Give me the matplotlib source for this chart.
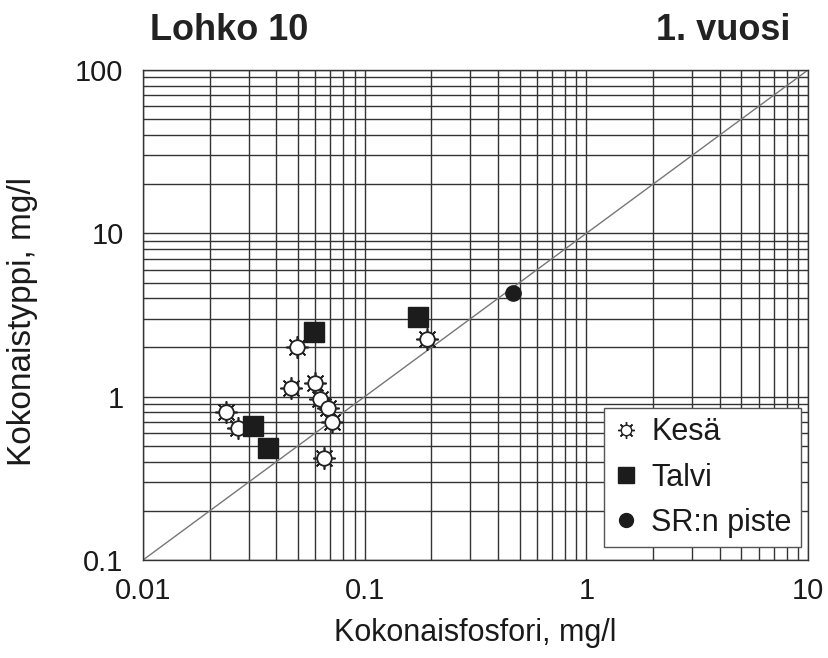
import numpy as np
import matplotlib
matplotlib.use("Agg")
import matplotlib.pyplot as plt
from matplotlib.ticker import LogLocator, FixedLocator, FixedFormatter
from matplotlib.legend_handler import HandlerTuple
from matplotlib.lines import Line2D

plt.rcParams['font.family'] = ['Liberation Sans', 'DejaVu Sans']

# Summer samples (Kesä): total phosphorus vs total nitrogen, mg/l
kesa_p = [0.0237, 0.0268, 0.0495, 0.0465, 0.0597, 0.0629, 0.0683, 0.0712, 0.0655, 0.191]
kesa_n = [0.81, 0.646, 2.0, 1.135, 1.22, 0.97, 0.857, 0.703, 0.423, 2.27]

# Winter samples (Talvi)
talvi_p = [0.059, 0.0313, 0.0366, 0.174]
talvi_n = [2.5, 0.665, 0.487, 3.09]

# Reference point (SR:n piste)
sr_p = [0.467]
sr_n = [4.33]

# 1:1 reference line endpoints (N = 10 * P)
ref_p = [0.01, 10]
ref_n = [0.1, 100]

x_ticks = [0.01, 0.1, 1, 10]
x_labels = ['0.01', '0.1', '1', '10']
y_ticks = [0.1, 1, 10, 100]
y_labels = ['0.1', '1', '10', '100']

fig = plt.figure(figsize=(8.29, 6.58), dpi=100)
ax = fig.add_axes([143/829, 1 - 560/658, 665/829, 490/658])
ax.set_xscale('log')
ax.set_yscale('log')
ax.set_xlim(0.01, 10)
ax.set_ylim(0.1, 100)

grid_col = '#333333'
ax.xaxis.set_major_locator(FixedLocator(x_ticks))
ax.xaxis.set_major_formatter(FixedFormatter(x_labels))
ax.yaxis.set_major_locator(FixedLocator(y_ticks))
ax.yaxis.set_major_formatter(FixedFormatter(y_labels))
ax.xaxis.set_minor_locator(LogLocator(base=10, subs=np.arange(2, 10)))
ax.yaxis.set_minor_locator(LogLocator(base=10, subs=np.arange(2, 10)))
ax.xaxis.set_minor_formatter(plt.NullFormatter())
ax.yaxis.set_minor_formatter(plt.NullFormatter())
ax.grid(True, which='both', color=grid_col, linewidth=1.0)
ax.tick_params(which='both', length=0, labelsize=21, colors='#1a1a1a')
ax.tick_params(axis='x', pad=12)
ax.tick_params(axis='y', pad=14)
for s in ax.spines.values():
    s.set_color(grid_col)
    s.set_linewidth(1.0)
ax.set_axisbelow(True)

ax.plot(ref_p, ref_n, color='#777777', linewidth=1.0, zorder=2)

# Summer: sun-like marker = asterisk spikes under a white circle
ax.plot(kesa_p, kesa_n, linestyle='none', marker=(8, 2, 0), markersize=16,
        markeredgecolor='#222222', markeredgewidth=1.2, zorder=3)
ax.plot(kesa_p, kesa_n, linestyle='none', marker='o', markersize=10.5,
        markerfacecolor='white', markeredgecolor='#222222', markeredgewidth=1.3, zorder=4)

ax.plot(talvi_p, talvi_n, linestyle='none', marker='s', markersize=14,
        markerfacecolor='#1c1c1c', markeredgecolor='#1c1c1c', zorder=5)

ax.plot(sr_p, sr_n, linestyle='none', marker='o', markersize=11,
        markerfacecolor='#1c1c1c', markeredgecolor='#1c1c1c', zorder=5)

ax.set_xlabel('Kokonaisfosfori, mg/l', fontsize=22, color='#1a1a1a')
ax.xaxis.set_label_coords((475 - 143) / 665, -(633 - 560) / 490)
ax.set_ylabel('Kokonaistyppi, mg/l', fontsize=24, color='#1a1a1a')
ax.yaxis.set_label_coords(-(143 - 22) / 665, (560 - 321) / 490)
ax.xaxis.label.set_va('center')
ax.yaxis.label.set_va('center')

fig.text(150/829, 1 - 30/658, 'Lohko 10', fontsize=26, fontweight='bold',
         ha='left', va='center', color='#222222')
fig.text(790/829, 1 - 30/658, '1. vuosi', fontsize=26, fontweight='bold',
         ha='right', va='center', color='#222222')

h_sun = (Line2D([], [], linestyle='none', marker=(8, 2, 0), markersize=12,
                markeredgecolor='#222222', markeredgewidth=1.0),
         Line2D([], [], linestyle='none', marker='o', markersize=7.5,
                markerfacecolor='white', markeredgecolor='#222222', markeredgewidth=1.0))
h_sq = Line2D([], [], linestyle='none', marker='s', markersize=12,
              markerfacecolor='#1c1c1c', markeredgecolor='#1c1c1c')
h_ci = Line2D([], [], linestyle='none', marker='o', markersize=10,
              markerfacecolor='#1c1c1c', markeredgecolor='#1c1c1c')
leg = ax.legend([h_sun, h_sq, h_ci], ['Kesä', 'Talvi', 'SR:n piste'],
                handler_map={tuple: HandlerTuple(ndivide=1, pad=0)},
                loc='upper right', bbox_to_anchor=(0.9895, 0.310),
                borderaxespad=0, fontsize=22, frameon=True, fancybox=False,
                framealpha=1, edgecolor='#555555', handlelength=0.8,
                handletextpad=0.45, labelspacing=0.5, borderpad=0.3)
leg.get_frame().set_linewidth(1.0)
for t in leg.get_texts():
    t.set_color('#1a1a1a')
leg.set_zorder(10)

fig.savefig('out.png', dpi=100, facecolor='white')
